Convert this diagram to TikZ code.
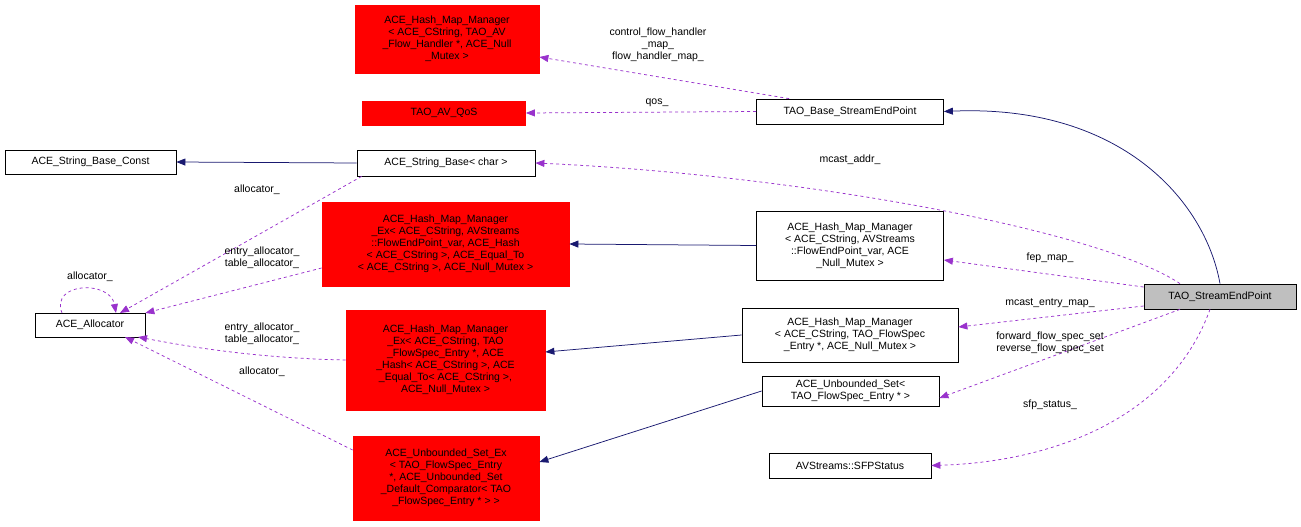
\documentclass[tikz,border=0pt]{standalone}
\usepackage{fontspec}
\setmainfont{Liberation Sans}
\usetikzlibrary{arrows.meta}
\definecolor{navy}{RGB}{25,25,112}
\definecolor{orchid}{RGB}{153,50,204}
\definecolor{boxred}{RGB}{255,0,0}
\tikzset{every picture/.style={line width=0.75pt}}
\tikzset{
  cls/.style={draw=black, fill=white, align=center, inner sep=2pt, font=\fontsize{10.5}{12}\selectfont},
  redcls/.style={cls, color=boxred, draw=boxred, text=black},
  inherit/.style={draw=navy, -{Triangle[length=9pt,width=7pt,fill=navy]}},
  uses/.style={draw=orchid, dashed, -{Triangle[length=9pt,width=7pt,fill=orchid]}},
  lbl/.style={align=center, font=\fontsize{10.5}{12}\selectfont, inner sep=1pt}
}
\begin{document}
\begin{tikzpicture}[x=1pt,y=1pt,yscale=-1]
\useasboundingbox (0,0) rectangle (1301,527);

% classes
\node[cls, fill=black!25, minimum width=152pt, minimum height=25pt] (sep) at (1220,296.5) {TAO\_StreamEndPoint};
\node[cls, minimum width=187pt, minimum height=25pt] (base) at (850,111.5) {TAO\_Base\_StreamEndPoint};
\node[redcls, minimum width=184pt, minimum height=68pt] (hmflow) at (447,39) {ACE\_Hash\_Map\_Manager\\{}< ACE\_CString, TAO\_AV\\\_Flow\_Handler *, ACE\_Null\\\_Mutex >};
\node[redcls, minimum width=163pt, minimum height=24pt] (qos) at (444,113) {TAO\_AV\_QoS};
\node[cls, minimum width=171pt, minimum height=24pt] (sbconst) at (90.5,162) {ACE\_String\_Base\_Const};
\node[cls, minimum width=178pt, minimum height=26pt] (sbchar) at (446,163) {ACE\_String\_Base< char >};
\node[redcls, minimum width=247pt, minimum height=84pt] (hmexfep) at (445.5,244) {ACE\_Hash\_Map\_Manager\\\_Ex< ACE\_CString, AVStreams\\::FlowEndPoint\_var, ACE\_Hash\\{}< ACE\_CString >, ACE\_Equal\_To\\{}< ACE\_CString >, ACE\_Null\_Mutex >};
\node[cls, minimum width=187pt, minimum height=69pt] (hmfep) at (850,245.5) {ACE\_Hash\_Map\_Manager\\{}< ACE\_CString, AVStreams\\::FlowEndPoint\_var, ACE\\\_Null\_Mutex >};
\node[cls, minimum width=110pt, minimum height=24pt] (alloc) at (90,325) {ACE\_Allocator};
\node[redcls, minimum width=199pt, minimum height=100pt] (hmexspec) at (445.5,360) {ACE\_Hash\_Map\_Manager\\\_Ex< ACE\_CString, TAO\\\_FlowSpec\_Entry *, ACE\\\_Hash< ACE\_CString >, ACE\\\_Equal\_To< ACE\_CString >,\\ACE\_Null\_Mutex >};
\node[cls, minimum width=216pt, minimum height=54pt] (hmspec) at (850,335) {ACE\_Hash\_Map\_Manager\\{}< ACE\_CString, TAO\_FlowSpec\\\_Entry *, ACE\_Null\_Mutex >};
\node[cls, minimum width=177pt, minimum height=30pt] (uset) at (850.5,391) {ACE\_Unbounded\_Set<\\TAO\_FlowSpec\_Entry * >};
\node[redcls, minimum width=186pt, minimum height=84pt] (usetex) at (446,478) {ACE\_Unbounded\_Set\_Ex\\{}< TAO\_FlowSpec\_Entry\\*, ACE\_Unbounded\_Set\\\_Default\_Comparator< TAO\\\_FlowSpec\_Entry * > >};
\node[cls, minimum width=162pt, minimum height=25pt] (sfp) at (850,465.5) {AVStreams::SFPStatus};

% inheritance
\draw[inherit] (sep.north) .. controls (1205,200) and (1120,104) .. (base.east);
\draw[inherit] (sbchar.west) -- (sbconst.east);
\draw[inherit] (hmfep.west) -- (hmexfep.east);
\draw[inherit] (hmspec.west) -- (hmexspec.east |- 0,352);
\draw[inherit] (uset.west) -- (usetex.east |- 0,462);

% members
\draw[uses] (base.north west) ++(33,0) -- (hmflow.east |- 0,57);
\node[lbl] at (658,45) {control\_flow\_handler\\\_map\_\\flow\_handler\_map\_};
\draw[uses] (base.west) -- (qos.east);
\node[lbl] at (657,103) {qos\_};
\draw[uses] (sep.north) ++(-40,0) .. controls (1100,230) and (800,175) .. (sbchar.east);
\node[lbl] at (850,160) {mcast\_addr\_};
\draw[uses] (sep.west |- 0,287) -- (hmfep.east |- 0,260);
\node[lbl] at (1050,258) {fep\_map\_};
\draw[uses] (sep.west |- 0,306) -- (hmspec.east |- 0,327);
\node[lbl] at (1050,303) {mcast\_entry\_map\_};
\draw[uses] (sep.south) ++(-40,0) -- (uset.east |- 0,398);
\node[lbl] at (1050,343) {forward\_flow\_spec\_set\\reverse\_flow\_spec\_set};
\draw[uses] (sep.south) ++(-10,0) .. controls (1170,420) and (1050,462) .. (sfp.east);
\node[lbl] at (1050,405) {sfp\_status\_};
\draw[uses] (sbchar.south west) ++(5,0) -- (120,313);
\node[lbl] at (257,190) {allocator\_};
\draw[uses] (hmexfep.west |- 0,268) -- (alloc.east |- 0,313);
\node[lbl] at (262,258) {entry\_allocator\_\\table\_allocator\_};
\draw[uses] (hmexspec.west |- 0,360) .. controls (250,358) and (180,345) .. (138,337);
\node[lbl] at (262,334) {entry\_allocator\_\\table\_allocator\_};
\draw[uses] (usetex.north west |- 0,450) -- (125,337);
\node[lbl] at (262,372) {allocator\_};
\draw[uses] (62,313) .. controls (50,282) and (110,280) .. (116,313);
\node[lbl] at (90,277) {allocator\_};
\end{tikzpicture}
\end{document}
